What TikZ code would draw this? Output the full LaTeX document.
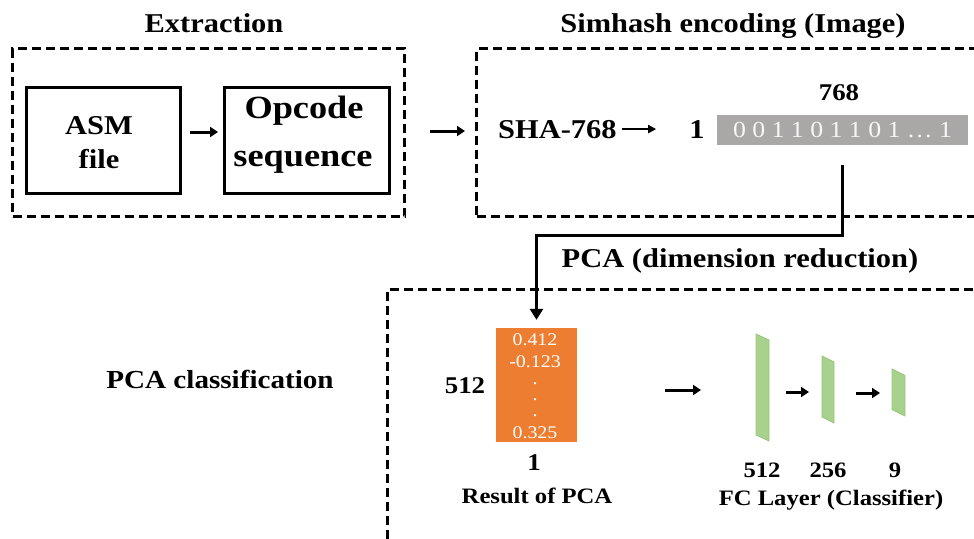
\documentclass[tikz,border=0pt]{standalone}
\usepackage{fontspec}
\setmainfont{Liberation Serif}[FakeStretch=1.12]
\usetikzlibrary{arrows.meta}
\definecolor{bitgrey}{RGB}{170,167,167}
\definecolor{pcaorange}{RGB}{237,125,49}
\definecolor{fcgreen}{RGB}{169,209,142}
\definecolor{fcedge}{RGB}{150,198,118}
\newcommand\sz[1]{\fontsize{#1}{#1}\selectfont}

\begin{document}
\begin{tikzpicture}[x=1pt,y=-1pt,
  group/.style={draw, line width=3pt, dash pattern=on 9pt off 5pt, inner sep=0pt},
  blk/.style={draw, line width=3pt, inner sep=0pt},
  lbl/.style={inner sep=0pt, anchor=base, font=\bfseries\sz{27.2}},
  small/.style={lbl, font=\bfseries\sz{22}},
  val/.style={inner sep=0pt, anchor=base, text=white, font=\sz{17.8}},
  arr/.style={line width=3pt, -{Triangle[length=8pt,width=10pt]}},
  thinarr/.style={line width=2pt, -{Triangle[length=8pt,width=8pt]}},
  longarr/.style={line width=3pt, -{Triangle[length=11pt,width=13pt]}},
  layer/.style={inner sep=0pt, outer sep=0pt},
  layerfill/.style={fill=fcgreen, draw=fcedge, line width=0.8pt},
]
\useasboundingbox (0,0) rectangle (974,538);
\clip (0,0) rectangle (974,538);

% ---- Extraction stage ----
\node[lbl] (ttlextr) at (214,32) {Extraction};
\node[group, minimum width=392pt, minimum height=168pt] (extr) at (208.5,132.5) {};
\node[blk, minimum width=154pt, minimum height=106pt] (asm) at (103.5,140.5) {};
\node[lbl] (asmA) at (99,134) {ASM};
\node[lbl] (asmB) at (99,168) {file};
\node[blk, minimum width=165pt, minimum height=106pt] (opc) at (307,140.5) {};
\node[lbl, font=\bfseries\sz{32.4}] (opcA) at (304,118) {Opcode};
\node[lbl, font=\bfseries\sz{32.4}] (opcB) at (303,166) {sequence};
\draw[arr, shorten <=8pt, shorten >=5pt] ([yshift=8.5pt]asm.east) -- ([yshift=8.5pt]asm.east -| opc.west);

% ---- Simhash encoding stage ----
\node[lbl] (ttlsim) at (733,32) {Simhash encoding (Image)};
\node[group, minimum width=523.5pt, minimum height=168pt] (simh) at (738.25,132.5) {};
\draw[arr, shorten <=24pt, shorten >=10pt] ([yshift=1.5pt]extr.east) -- ([yshift=1.5pt]extr.east -| simh.west);
\node[lbl, anchor=base west] (sha) at (498,138) {SHA-768};
\node[lbl] (rowdim) at (697,138) {1};
\node[fill=bitgrey, minimum width=251pt, minimum height=30pt, inner sep=0pt,
      text=white!94!gray, font=\sz{23}] (bits) at (842.5,130) {0 0 1 1 0 1 1 0 1 … 1};
\node[lbl, font=\bfseries\sz{24}] (coldim) at (839,100) {768};
\draw[thinarr, shorten <=5pt, shorten >=33pt] (sha.east) -- (sha.east -| rowdim.west);

% ---- PCA stage ----
\node[lbl] (ttlpca) at (740,267) {PCA (dimension reduction)};
\node[group, minimum width=612.5pt, minimum height=270.5pt] (pcab) at (693.75,424.75) {};
\node[lbl, font=\bfseries\sz{26}] (ttlcls) at (220,388) {PCA classification};

\node[fill=pcaorange, minimum width=81pt, minimum height=114pt, inner sep=0pt] (pcavec) at (536.5,385) {};
\node[val] (v1) at (535,345) {0.412};
\node[val] (v2) at (535,367) {-0.123};
\node[val] (v3) at (535,384.5) {.};
\node[val] (v4) at (535,400.5) {.};
\node[val] (v5) at (535,416.5) {.};
\node[val] (v6) at (535,438) {0.325};
\node[lbl, font=\bfseries\sz{24}] (pcarows) at (465,393) {512};
\node[lbl, font=\bfseries\sz{24}] (pcacols) at (534,470) {1};
\node[small] (pcacap) at (537,503) {Result of PCA};

% connector from the simhash vector down to the PCA result
\draw[longarr, shorten <=20pt, shorten >=8pt] (bits.south) -- ++(0,90) -| (pcavec.north);

% ---- FC classifier layers ----
\node[layer, minimum width=13pt, minimum height=107pt] (fc1) at (762.5,387.5) {};
\node[layer, minimum width=12pt, minimum height=67pt] (fc2) at (828,389.5) {};
\node[layer, minimum width=13pt, minimum height=47pt] (fc3) at (898.5,392.5) {};
\foreach \n/\d in {fc1/6,fc2/6,fc3/6.5}
  \path[layerfill] (\n.north west) -- ([yshift=-\d pt]\n.north east) -- (\n.south east)
        -- ([yshift=\d pt]\n.south west) -- cycle;

\draw[arr, shorten <=88pt, shorten >=55pt] ([yshift=-5pt]pcavec.east) -- ([yshift=-5pt]pcavec.east -| fc1.west);
\draw[arr, shorten <=17pt, shorten >=13pt] ([yshift=-4.5pt]fc1.east) -- ([yshift=-4.5pt]fc1.east -| fc2.west);
\draw[arr, shorten <=22pt, shorten >=12pt] ([yshift=-3.5pt]fc2.east) -- ([yshift=-3.5pt]fc2.east -| fc3.west);

\node[small] (fcn1) at (762,477) {512};
\node[small] (fcn2) at (828,477) {256};
\node[small] (fcn3) at (895,477) {9};
\node[small] (fccap) at (831,505) {FC Layer (Classifier)};
\end{tikzpicture}
\end{document}
